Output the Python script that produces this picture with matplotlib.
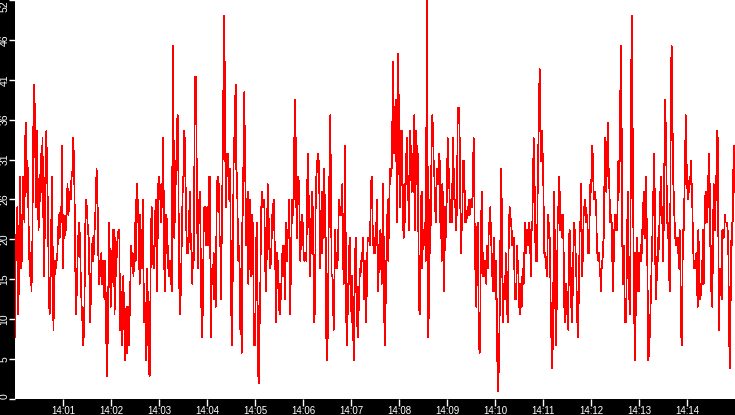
import datetime as dt
import numpy as np
import matplotlib
matplotlib.use("Agg")
import matplotlib.pyplot as plt
import matplotlib.dates as mdates
from matplotlib.ticker import FixedLocator, FuncFormatter

plt.rcParams["font.family"] = ["Liberation Sans", "DejaVu Sans"]

# readings, one list per 2.5 minute window starting at 14:00:00
seg1 = [8, 20, 22, 25, 11, 15, 29, 26, 17, 19, 29, 27, 23, 34, 36, 27, 31, 25, 19, 16,
        19, 14, 19, 32, 41, 39, 31, 25, 35, 28, 22, 24, 28, 32, 27, 34, 25, 16, 22, 32,
        35, 29, 25, 15, 11, 12, 21, 29, 20, 9, 14, 18, 17, 18, 19, 22, 24, 21, 25, 23,
        33, 17, 24, 21, 22, 22, 26, 28, 24, 25, 27, 26, 29, 29, 34, 32, 26, 16, 11, 15,
        19, 22, 23, 20, 15, 12, 10, 7, 9, 16, 26, 26, 24, 22, 21, 15, 10, 15, 19, 21,
        18, 21, 23, 26, 30, 28, 20, 15, 18, 16, 19, 15, 18, 15, 13, 18, 11, 3, 6, 15,
        23, 18, 12, 14, 19, 22, 22, 11, 21, 16, 20, 21, 22, 22, 9, 14, 7, 10, 16, 12,
        5, 7, 12, 6, 12, 7, 10, 15, 20, 18, 19, 16, 18]
seg2 = [23, 18, 26, 28, 23, 26, 19, 15, 24, 20, 22, 17, 26, 10, 15, 10, 11, 5, 17, 14,
        7, 3.5, 3, 12, 22, 25, 22, 18, 17, 19, 23, 26, 20, 14, 21, 28, 29, 28, 26, 23,
        28, 25, 34, 27, 17, 14, 19, 24, 23, 20, 17, 16, 18, 17, 16, 14, 30, 46, 34, 21,
        25, 28, 31, 36, 37, 30, 18, 11, 12, 15, 20, 25, 29, 29, 35, 33, 27, 22, 19, 21,
        19, 22, 27, 23, 20, 19, 15, 19, 18, 31, 42, 42, 36, 26, 17, 21, 25, 27, 24, 15,
        9, 8, 14, 22, 25, 23, 25, 20, 23, 20, 25, 29, 29, 19, 8, 15, 17, 16, 19, 13,
        18, 12, 21, 28, 29, 28, 28, 21, 20, 13, 20, 28, 35, 45, 50, 37, 25, 32, 29, 32,
        29, 26, 30, 26, 15, 7, 9, 22, 31, 34, 38, 41, 30, 29, 23, 18, 20, 17, 9, 11,
        6, 23, 25, 35, 40, 31, 26, 20, 25, 27, 15, 19, 23, 26, 16, 20, 24, 22, 11, 7]
seg3 = [7, 13, 21, 23, 12, 3, 2, 10, 15, 23, 27, 25, 25, 26, 25, 19, 14, 15, 22, 28,
        26, 21, 18, 17, 18, 21, 24, 25, 26, 22, 19, 15, 10, 19, 15, 18, 12, 11, 12, 14,
        16, 19, 20, 16, 20, 13, 18, 23, 18, 21, 22, 26, 18, 11, 19, 23, 26, 24, 26, 34,
        39, 34, 25, 21, 28, 29, 28, 23, 18, 21, 24, 20, 23, 19, 18, 19, 19, 18, 25, 32,
        27, 26, 19, 16, 22, 25, 27, 23, 15, 10, 12, 25, 29, 30, 32, 30, 31, 23, 17, 22,
        27, 19, 24, 21, 30, 23, 21, 8, 5, 8, 16, 29, 26, 37, 26, 16, 16, 13, 9, 15,
        22, 19, 17, 17, 18, 22, 26, 25, 25, 24, 26, 28, 19, 15, 24, 33, 22, 10, 7, 15,
        11, 19, 21, 19, 13, 10, 16, 10, 5, 10, 18, 21, 18, 11, 8, 11, 12, 17, 16, 17,
        19, 18, 21, 18, 13, 15, 18, 10, 17, 21, 21, 21, 20, 23, 28, 29, 25, 20, 21, 19]
seg4 = [19, 20, 23, 26, 20, 14, 19, 21, 22, 19, 15, 22, 28, 21, 10, 7, 13, 18, 22, 26,
        18, 24, 28, 30, 29, 30, 36, 44, 38, 32, 35, 31, 39, 23, 34, 45, 34, 25, 32, 35,
        35, 28, 23, 21, 28, 23, 28, 32, 34, 29, 26, 22, 29, 35, 31, 27, 30, 32, 27, 37,
        22, 35, 28, 33, 32, 22, 12, 11, 18, 26, 27, 17, 22, 20, 22, 23, 18, 35, 52, 30,
        8, 13, 26, 19, 26, 34, 37, 35, 31, 29, 26, 23, 27, 30, 30, 28, 32, 31, 23, 24,
        18, 28, 26, 19, 14, 25, 21, 23, 29, 34, 31, 29, 26, 23, 23, 23, 28, 34, 30, 26,
        26, 24, 22, 26, 37, 38, 38, 34, 25, 19, 22, 24, 31, 27, 31, 23, 23, 23, 24, 25,
        24, 26, 24, 26, 25, 25, 26, 30, 34, 27, 19, 15, 12, 22, 23, 15, 7, 6, 11, 22,
        27, 22, 16, 16, 16, 18, 18, 15, 20, 17, 20, 23, 22, 25, 21, 19, 16, 14, 18, 21]
seg5 = [15, 13, 18, 8, 2, 1, 6, 11, 21, 30, 26, 16, 10, 13, 15, 13, 19, 16, 12, 10,
        17, 23, 25, 24, 23, 22, 20, 21, 21, 17, 13, 15, 13, 20, 18, 17, 13, 11, 12, 15,
        12, 16, 17, 15, 19, 23, 19, 22, 22, 20, 22, 23, 19, 22, 16, 22, 23, 29, 34, 32,
        23, 18, 19, 18, 27, 33, 39, 43, 35, 31, 35, 33, 31, 25, 19, 19, 18, 17, 16, 21,
        24, 22, 21, 16, 9, 7, 4, 9, 21, 27, 17, 7, 8, 16, 23, 25, 29, 27, 22, 22,
        24, 21, 24, 19, 12, 10, 14, 15, 11, 14, 9, 21, 22, 20, 14, 10, 11, 16, 22, 23,
        21, 19, 16, 12, 8, 10, 15, 22, 23, 28, 20, 16, 20, 24, 25, 26, 25, 23, 24, 22,
        19, 19, 24, 28, 27, 30, 33, 31, 26, 26, 27, 26, 24, 19, 19, 18, 19, 17, 16, 14,
        18, 17, 20, 21, 28, 34, 30, 27, 31, 36, 31, 29, 26, 23, 24, 23, 18, 14, 18, 22]
seg6 = [24, 22, 23, 22, 26, 31, 27, 31, 40, 46, 35, 20, 15, 20, 16, 10, 10, 12, 20, 27,
        22, 15, 11, 15, 38, 50, 44, 26, 19, 10, 5, 11, 19, 21, 19, 14, 14, 19, 18, 18,
        22, 19, 24, 27, 25, 21, 29, 26, 21, 14, 5, 6, 8, 11, 14, 18, 21, 27, 24, 32,
        22, 13, 15, 16, 21, 18, 21, 24, 27, 29, 25, 23, 18, 22, 30, 39, 36, 30, 25, 21,
        23, 17, 14, 25, 43, 46, 40, 29, 27, 24, 22, 20, 21, 20, 21, 19, 17, 22, 17, 9,
        7, 14, 22, 22, 26, 30, 37, 33, 28, 27, 26, 28, 29, 28, 31, 28, 25, 21, 17, 17,
        18, 17, 19, 15, 12, 22, 19, 15, 13, 14, 15, 18, 22, 15, 20, 26, 27, 24, 23, 25,
        29, 32, 28, 20, 14, 20, 12, 21, 28, 25, 22, 26, 29, 35, 34, 21, 9, 14, 17, 14,
        13, 22, 22, 21, 22, 24, 23, 23, 23, 22, 19, 10, 4, 8, 18, 23, 20, 27, 33, 27]

segments = [seg1, seg2, seg3, seg4, seg5, seg6]
y_ticks = np.arange(0, 52.01, 5.2)

start = dt.datetime(2024, 1, 1, 14, 0, 0)
times = []
values = []
for k, seg in enumerate(segments):
    offs = np.linspace(0, 150, len(seg), endpoint=False)
    for o, v in zip(offs, seg):
        times.append(start + dt.timedelta(seconds=150 * k + float(o)))
        values.append(v)

fig = plt.figure(figsize=(7.35, 4.15), dpi=100, facecolor="black")
ax = fig.add_axes([15 / 735, 16 / 415, 720 / 735, 399 / 415])
ax.set_facecolor("white")
ax.plot(times, values, color="#ff0000", lw=0.5, antialiased=False)

ax.set_xlim(start, start + dt.timedelta(minutes=15))
ax.set_ylim(0, 52)
for s in ax.spines.values():
    s.set_visible(False)

ax.xaxis.set_major_locator(mdates.MinuteLocator(byminute=range(1, 15)))
ax.xaxis.set_major_formatter(mdates.DateFormatter("%H:%M"))
ax.yaxis.set_major_locator(FixedLocator(y_ticks))
ax.yaxis.set_major_formatter(FuncFormatter(lambda v, p: str(int(v + 1e-9))))

ax.tick_params(axis="x", colors="white", length=5, width=1, pad=0, labelsize=7)
ax.tick_params(axis="y", colors="white", length=4, width=1, pad=0, labelsize=7.5,
               labelrotation=90)
fig.canvas.draw()
ylabs = ax.get_yticklabels()
for lab in ylabs:
    lab.set_va("center")
ylabs[0].set_va("bottom")
ylabs[-1].set_va("top")

fig.savefig("out.png", dpi=100, facecolor="black")
